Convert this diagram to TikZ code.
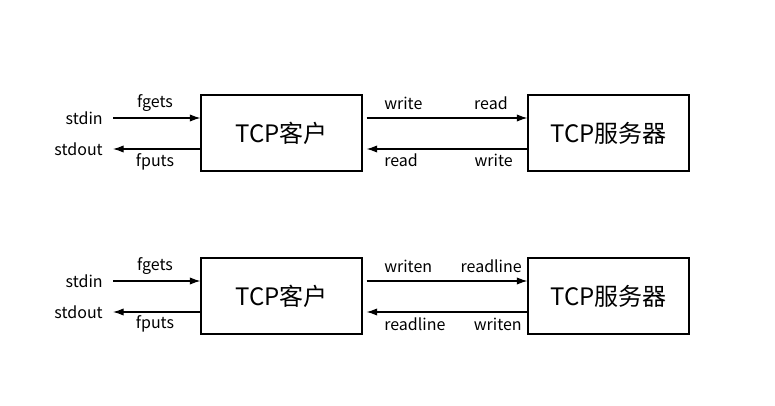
\documentclass[tikz,border=0pt]{standalone}
\usepackage{fontspec}
\setmainfont{Noto Sans CJK SC}
\usetikzlibrary{arrows.meta}

\tikzset{
    box/.style={draw, line width=0.8pt, minimum width=120.75pt, minimum height=57pt,
        inner sep=0pt, font=\fontsize{18}{20}\selectfont},
    lbl/.style={inner sep=0pt, font=\fontsize{12}{14}\selectfont},
    arr/.style={line width=0.9pt, -{Latex[length=8pt,width=5.5pt]}}
}

\begin{document}
\begin{tikzpicture}[x=0.75pt, y=-0.75pt]
    \useasboundingbox (0,0) rectangle (775,406);

    % upper pair: write / read
    \node[box] (cli1) at (281.5,133) {TCP客户};
    \node[box] (srv1) at (608.5,133) {TCP服务器};
    \node[lbl, anchor=east] (in1) at (103,118) {stdin};
    \node[lbl, anchor=east] (out1) at (103,149) {stdout};
    \draw[arr] ([xshift=7.5pt]in1.east) -- (cli1.west |- in1);
    \draw[arr] (cli1.west |- out1) -- ([xshift=7.5pt]out1.east);
    \draw[arr] ([xshift=3pt]cli1.east |- in1) -- (srv1.west |- in1);
    \draw[arr] (srv1.west |- out1) -- ([xshift=3pt]cli1.east |- out1);
    \node[lbl] (fgets1) at (155,103) {fgets};
    \node[lbl] (fputs1) at (155,162) {fputs};
    \node[lbl, anchor=west] (wr1) at (384,103) {write};
    \node[lbl, anchor=east] (rd1) at (508,103) {read};
    \node[lbl, anchor=west] (rd2) at (384,160) {read};
    \node[lbl, anchor=east] (wr2) at (513,160) {write};

    % lower pair: writen / readline
    \node[box] (cli2) at (281.5,296) {TCP客户};
    \node[box] (srv2) at (608.5,296) {TCP服务器};
    \node[lbl, anchor=east] (in2) at (103,281) {stdin};
    \node[lbl, anchor=east] (out2) at (103,312) {stdout};
    \draw[arr] ([xshift=7.5pt]in2.east) -- (cli2.west |- in2);
    \draw[arr] (cli2.west |- out2) -- ([xshift=7.5pt]out2.east);
    \draw[arr] ([xshift=3pt]cli2.east |- in2) -- (srv2.west |- in2);
    \draw[arr] (srv2.west |- out2) -- ([xshift=3pt]cli2.east |- out2);
    \node[lbl] (fgets2) at (155,266) {fgets};
    \node[lbl] (fputs2) at (155,324) {fputs};
    \node[lbl, anchor=west] (wr3) at (384,266) {writen};
    \node[lbl, anchor=east] (rd3) at (522,266) {readline};
    \node[lbl, anchor=west] (rd4) at (384,324) {readline};
    \node[lbl, anchor=east] (wr4) at (522,324) {writen};
\end{tikzpicture}
\end{document}
